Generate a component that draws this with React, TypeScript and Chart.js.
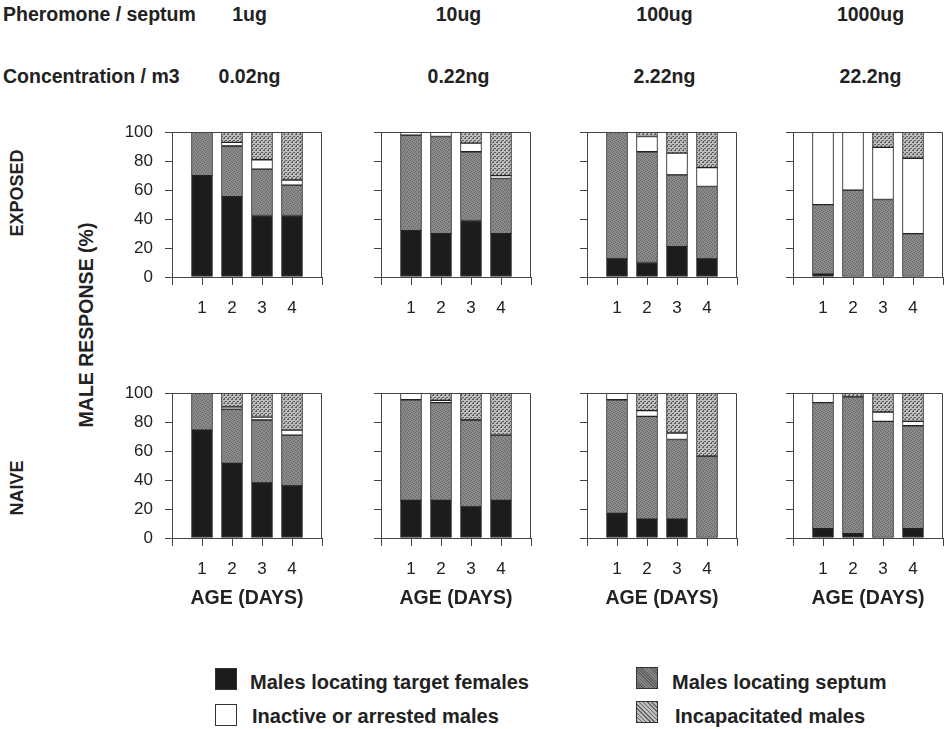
import React, { useEffect, useRef } from "react";
import { Chart, registerables } from "chart.js";

Chart.register(...registerables);

// ---------- data ----------
const ages = ["", "1", "2", "3", "4", ""];
const pheromoneDoses = ["1ug", "10ug", "100ug", "1000ug"];
const concentrations = ["0.02ng", "0.22ng", "2.22ng", "22.2ng"];
const rowLabels = ["EXPOSED", "NAIVE"];
const seriesNames = [
  "Males locating target females",
  "Males locating septum",
  "Inactive or arrested males",
  "Incapacitated males",
];

// values per dose (outer) and age 1..4 (inner), in %
const exposedTarget = [[70, 55.5, 42.5, 42.5], [32, 30, 39, 30], [12.5, 10, 21, 12.5], [2, 0, 0, 0]];
const exposedSeptum = [[30, 35, 32, 21], [66, 67, 47.5, 38], [87.5, 76.5, 49.5, 50], [48, 60, 53.5, 30]];
const exposedInactive = [[0, 2.5, 6.5, 3.5], [2, 3, 6, 2], [0, 10.5, 15, 13], [50, 40, 36, 52]];
const exposedIncap = [[0, 7, 19, 33], [0, 0, 7.5, 30], [0, 3, 14.5, 24.5], [0, 0, 10.5, 18]];

const naiveTarget = [[74.5, 51.5, 38, 36], [26, 26, 21.5, 26], [17, 13, 13, 0], [6.5, 3, 0, 6.5]];
const naiveSeptum = [[25.5, 37.5, 43.5, 35], [69.5, 67.5, 60, 45], [78.5, 71, 55, 56.5], [87, 94.5, 80.5, 71]];
const naiveInactive = [[0, 1.5, 2, 3.5], [4.5, 1.5, 0, 0], [4.5, 4, 4.5, 0], [6.5, 0, 6.5, 3]];
const naiveIncap = [[0, 9.5, 16.5, 25.5], [0, 5, 18.5, 29], [0, 12, 27.5, 43.5], [0, 2.5, 13, 19.5]];

// ---------- layout ----------
const FONT = '"Liberation Sans", Arial, Helvetica, sans-serif';
const TEXT = "#222";
const AXIS = "#444";
const COL_LEFT = [172, 381, 587, 793];
const ROW_TOP = [122, 383];
const PLOT_W = 155;
const PLOT_H = 155;
const Y_AXIS_W = 60;
const PAD_TOP = 12;
const PAD_RIGHT = 8;

function makePattern(ctx: CanvasRenderingContext2D, kind: "septum" | "incap") {
  const c = document.createElement("canvas");
  c.width = 4;
  c.height = 4;
  const g = c.getContext("2d")!;
  if (kind === "septum") {
    g.fillStyle = "#8a8a8a";
    g.fillRect(0, 0, 4, 4);
    g.fillStyle = "#686868";
    [[0, 0], [2, 1], [1, 2], [3, 3]].forEach(([x, y]) => g.fillRect(x, y, 1, 1));
  } else {
    g.fillStyle = "#bdbdbd";
    g.fillRect(0, 0, 4, 4);
    g.fillStyle = "#5e5e5e";
    [[0, 0], [2, 2], [3, 0], [1, 2], [0, 3]].forEach(([x, y]) => g.fillRect(x, y, 1, 1));
  }
  return ctx.createPattern(c, "repeat")!;
}

const framePlugin = {
  id: "frame",
  afterDraw(chart: any) {
    const { ctx, chartArea: a } = chart;
    const t = Math.round(a.top) + 0.5;
    const r = Math.round(a.right) - 0.5;
    ctx.save();
    ctx.strokeStyle = AXIS;
    ctx.lineWidth = 1;
    ctx.beginPath();
    ctx.moveTo(a.left, t);
    ctx.lineTo(r, t);
    ctx.lineTo(r, a.bottom);
    ctx.stroke();
    ctx.restore();
  },
};

function Panel({ row, col }: { row: number; col: number }) {
  const ref = useRef<HTMLCanvasElement>(null);
  const xAxisH = row === 0 ? 40 : 80;
  const width = Y_AXIS_W + PLOT_W + PAD_RIGHT;
  const height = PAD_TOP + PLOT_H + xAxisH;

  useEffect(() => {
    const canvas = ref.current!;
    const ctx = canvas.getContext("2d")!;
    const septumPattern = makePattern(ctx, "septum");
    const incapPattern = makePattern(ctx, "incap");
    const target = row === 0 ? exposedTarget : naiveTarget;
    const septum = row === 0 ? exposedSeptum : naiveSeptum;
    const inactive = row === 0 ? exposedInactive : naiveInactive;
    const incap = row === 0 ? exposedIncap : naiveIncap;
    const pad = (arr: number[]) => [null, ...arr, null];
    const common = {
      borderColor: "#222",
      borderWidth: 1,
      borderSkipped: false,
      barThickness: 21,
    };
    const chart = new Chart(ctx, {
      type: "bar",
      data: {
        labels: ages,
        datasets: [
          { label: seriesNames[0], data: pad(target[col]), backgroundColor: "#1c1c1c", ...common },
          { label: seriesNames[1], data: pad(septum[col]), backgroundColor: septumPattern, ...common },
          { label: seriesNames[2], data: pad(inactive[col]), backgroundColor: "#ffffff", ...common },
          { label: seriesNames[3], data: pad(incap[col]), backgroundColor: incapPattern, ...common },
        ] as any,
      },
      options: {
        animation: false,
        responsive: false,
        maintainAspectRatio: false,
        layout: { padding: { top: PAD_TOP, right: PAD_RIGHT, left: 0, bottom: 0 } },
        plugins: { legend: { display: false }, tooltip: { enabled: false } },
        scales: {
          x: {
            stacked: true,
            offset: false,
            afterFit: (s: any) => {
              s.height = xAxisH;
            },
            grid: {
              offset: false,
              drawOnChartArea: false,
              drawTicks: true,
              tickLength: 8,
              color: AXIS,
              lineWidth: 1,
            },
            border: { display: true, color: AXIS, width: 1 },
            ticks: {
              autoSkip: false,
              maxRotation: 0,
              padding: 13,
              color: TEXT,
              font: { family: FONT, size: 17 },
            },
            title: {
              display: row === 1,
              text: "AGE (DAYS)",
              color: TEXT,
              font: { family: FONT, size: 19.5, weight: "bold" },
              padding: { top: 0, bottom: 8 },
            },
          },
          y: {
            stacked: true,
            min: 0,
            max: 100,
            afterFit: (s: any) => {
              s.width = Y_AXIS_W;
            },
            grid: {
              drawOnChartArea: false,
              drawTicks: true,
              tickLength: 7,
              color: AXIS,
              lineWidth: 1,
            },
            border: { display: true, color: AXIS, width: 1 },
            ticks: {
              stepSize: 20,
              padding: 12,
              color: TEXT,
              font: { family: FONT, size: 17 },
              callback: (v: any) => (col === 0 ? String(v) : ""),
            },
          },
        },
      } as any,
      plugins: [framePlugin],
    });
    return () => chart.destroy();
  }, [row, col]);

  return (
    <canvas
      ref={ref}
      width={width}
      height={height}
      style={{
        position: "absolute",
        left: COL_LEFT[col] - Y_AXIS_W,
        top: ROW_TOP[row] - PAD_TOP,
        width,
        height,
      }}
    />
  );
}

function Label({
  x,
  y,
  text,
  size = 19.5,
  bold = true,
  anchor = "middle",
  rotate = false,
}: {
  x: number;
  y: number;
  text: string;
  size?: number;
  bold?: boolean;
  anchor?: "start" | "middle";
  rotate?: boolean;
}) {
  const tx = anchor === "middle" ? "-50%" : "0";
  return (
    <div
      style={{
        position: "absolute",
        left: x,
        top: y,
        transform: `translate(${tx}, -50%)` + (rotate ? " rotate(-90deg)" : ""),
        transformOrigin: anchor === "middle" ? "50% 50%" : "0 50%",
        fontFamily: FONT,
        fontSize: size,
        fontWeight: bold ? 700 : 400,
        lineHeight: 1,
        whiteSpace: "nowrap",
        color: TEXT,
      }}
    >
      {text}
    </div>
  );
}

function Swatch({ x, y, kind }: { x: number; y: number; kind: number }) {
  const backgrounds = [
    "#1c1c1c",
    "repeating-linear-gradient(45deg, #5e5e5e 0px, #5e5e5e 1px, #8a8a8a 1px, #8a8a8a 2px)",
    "#ffffff",
    "repeating-linear-gradient(45deg, #666 0px, #666 1px, #bdbdbd 1px, #bdbdbd 3px)",
  ];
  return (
    <div
      style={{
        position: "absolute",
        left: x,
        top: y,
        width: 22,
        height: 22,
        boxSizing: "border-box",
        border: "1px solid #333",
        background: backgrounds[kind],
      }}
    />
  );
}

export default function App() {
  const centers = COL_LEFT.map((l) => l + PLOT_W / 2);
  return (
    <div
      style={{
        position: "absolute",
        left: 0,
        top: 0,
        width: 951,
        height: 729,
        background: "#fff",
        overflow: "hidden",
      }}
    >
      <Label x={3} y={15} text="Pheromone / septum" anchor="start" />
      <Label x={3} y={77} text="Concentration / m3" anchor="start" />
      {pheromoneDoses.map((d, i) => (
        <Label key={"d" + i} x={centers[i]} y={15} text={d} />
      ))}
      {concentrations.map((d, i) => (
        <Label key={"c" + i} x={centers[i]} y={77} text={d} />
      ))}
      <Label x={17} y={193} text={rowLabels[0]} size={18} rotate />
      <Label x={17} y={488} text={rowLabels[1]} size={18} rotate />
      <Label x={87} y={325} text="MALE RESPONSE (%)" size={19.5} rotate />

      {[0, 1].map((r) =>
        [0, 1, 2, 3].map((c) => <Panel key={r + "-" + c} row={r} col={c} />)
      )}

      <Swatch x={215} y={668} kind={0} />
      <Label x={250} y={682} text={seriesNames[0]} size={20} anchor="start" />
      <Swatch x={215} y={704} kind={2} />
      <Label x={252} y={716} text={seriesNames[2]} size={20} anchor="start" />
      <Swatch x={636} y={667} kind={1} />
      <Label x={672} y={682} text={seriesNames[1]} size={20} anchor="start" />
      <Swatch x={636} y={701} kind={3} />
      <Label x={675} y={716} text={seriesNames[3]} size={20} anchor="start" />
    </div>
  );
}
